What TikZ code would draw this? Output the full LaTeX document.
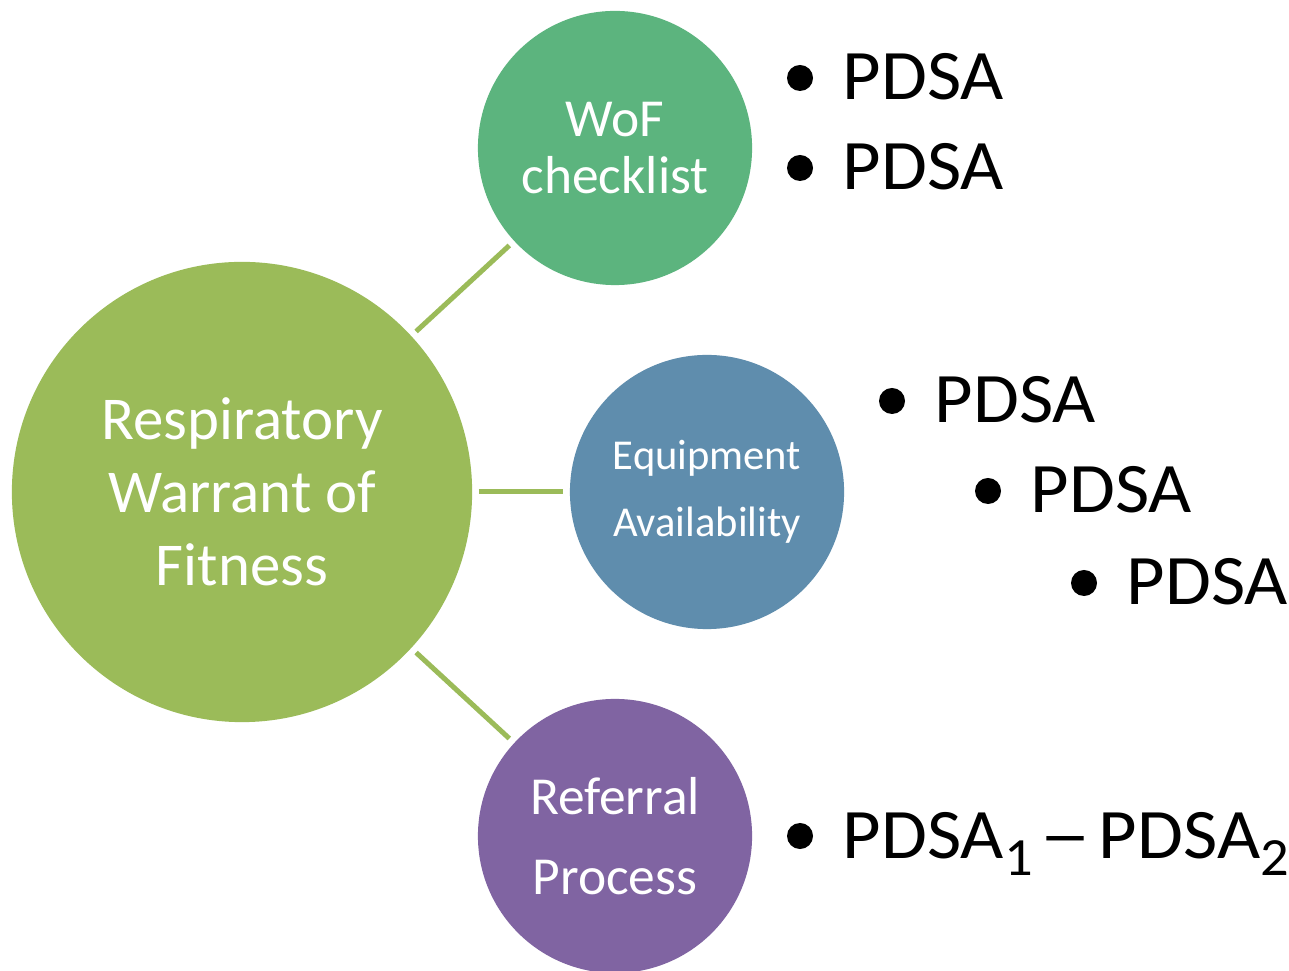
\documentclass[tikz,border=0pt]{standalone}
\usepackage{fontspec}
\setmainfont{Carlito}
\newfontfamily\widefont[FakeStretch=1.05]{Carlito}
\definecolor{olivegreen}{HTML}{9BBB59}
\definecolor{seagreen}{HTML}{5CB47E}
\definecolor{steelblue}{HTML}{5F8DAD}
\definecolor{plum}{HTML}{8064A2}
% lowered index digit after PDSA
\newcommand{\pdsaidx}[1]{\raisebox{-0.24em}{\fontsize{15.3}{16}\selectfont #1}}
\begin{document}
\begin{tikzpicture}[x=0.01cm,y=-0.01cm,
  hub/.style={circle,fill=olivegreen,draw=none,minimum size=4.6cm,inner sep=0pt,
    text=white,align=center,font=\fontsize{17.3}{20.8}\selectfont},
  topic/.style={circle,draw=none,minimum size=2.74cm,inner sep=0pt,text=white,align=center},
  conn/.style={draw=olivegreen,line width=0.05cm,shorten <=0.06cm,shorten >=0.06cm},
  bul/.style={circle,fill=black,draw=none,minimum size=0.26cm,inner sep=0pt},
  item/.style={anchor=base west,inner sep=0pt,font=\widefont\fontsize{20.2}{24}\selectfont}]
\useasboundingbox (0,0) rectangle (1289,971);
\fill[white] (0,0) rectangle (1289,971);

% central hub and the three topics
\node[hub] (rw) at (242,492) {Respiratory\\Warrant of\\Fitness};
\node[topic,fill=seagreen,font=\fontsize{15.2}{16.2}\selectfont] (wof) at (615,148) {WoF\\checklist};
\node[topic,fill=steelblue,font=\fontsize{12.1}{19}\selectfont] (eq) at (707,492) {Equipment\\Availability};
\node[topic,fill=plum,font=\fontsize{15.2}{22.8}\selectfont] (ref) at (615,836) {Referral\\Process};

% connectors
\draw[conn] (rw) -- (wof);
\draw[conn] (rw) -- (eq);
\draw[conn] (rw) -- (ref);

% bullet lists
\node[bul] (b1) at (800,78) {};
\node[item] (p1) at (842,100) {PDSA};
\node[bul] (b2) at (800,168) {};
\node[item] (p2) at (842,190) {PDSA};

\node[bul] (b3) at (892,401) {};
\node[item] (p3) at (934,423) {PDSA};
\node[bul] (b4) at (988,491) {};
\node[item] (p4) at (1030,513) {PDSA};
\node[bul] (b5) at (1084,583) {};
\node[item] (p5) at (1126,605) {PDSA};

\node[bul] (b6) at (800,836) {};
\node[item] (p6) at (842,858) {PDSA\pdsaidx{1}\hspace{0.1em}\scalebox{1.4}[1]{–}\hspace{0.1em}PDSA\pdsaidx{2}};
\end{tikzpicture}
\end{document}
